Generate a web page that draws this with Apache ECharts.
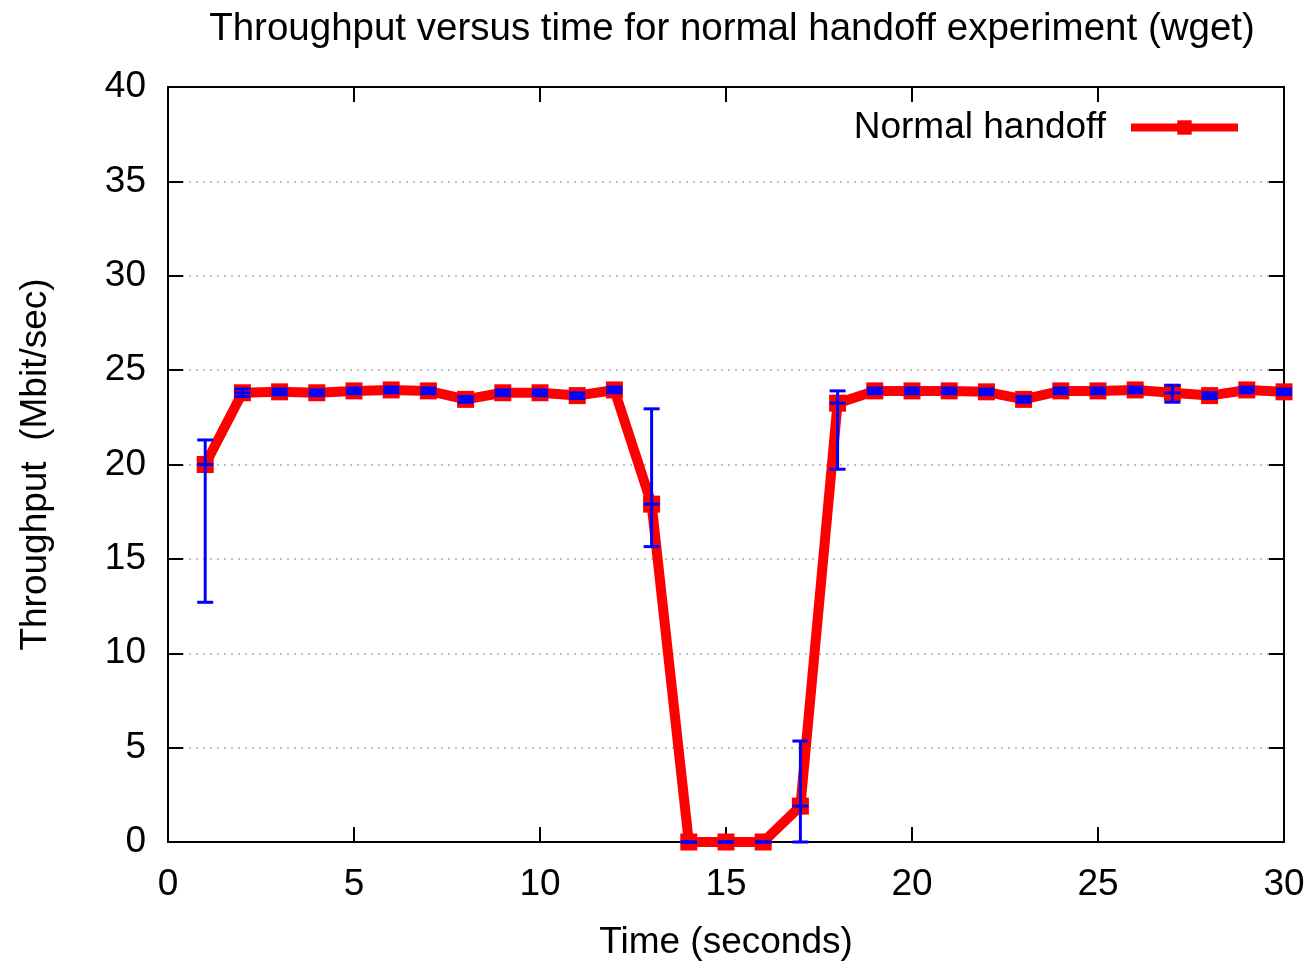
<!DOCTYPE html>
<html>
<head>
<meta charset="utf-8">
<script src="https://cdn.jsdelivr.net/npm/echarts@6/dist/echarts.min.js"></script>
<style>
  html, body { margin: 0; padding: 0; background: #fff; }
  #chart { width: 1315px; height: 963px; }
</style>
</head>
<body>
<div id="chart"></div>
<script>
// time (seconds)
const times = [1, 2, 3, 4, 5, 6, 7, 8, 9, 10, 11, 12, 13, 14, 15, 16, 17, 18, 19, 20, 21, 22, 23, 24, 25, 26, 27, 28, 29, 30];
// mean throughput (Mbit/sec)
const throughput = [20.0, 23.8, 23.85, 23.8, 23.9, 23.95, 23.9, 23.45, 23.8, 23.8, 23.65, 23.95, 17.9, 0, 0, 0, 1.9, 23.25, 23.9, 23.9, 23.9, 23.85, 23.45, 23.9, 23.9, 23.95, 23.8, 23.65, 23.95, 23.85];
// error bar bounds
const errLow = [12.7, 23.6, 23.7, 23.65, 23.75, 23.8, 23.75, 23.3, 23.65, 23.65, 23.5, 23.8, 15.65, 0, 0, 0, 0, 19.75, 23.75, 23.75, 23.75, 23.7, 23.3, 23.75, 23.75, 23.8, 23.3, 23.5, 23.8, 23.7];
const errHigh = [21.3, 24.0, 24.0, 23.95, 24.05, 24.1, 24.05, 23.6, 23.95, 23.95, 23.8, 24.1, 22.95, 0, 0, 0, 5.35, 23.9, 24.05, 24.05, 24.05, 24.0, 23.6, 24.05, 24.05, 24.1, 24.2, 23.8, 24.1, 24.0];

const font = "Liberation Sans, Arial, sans-serif";
const fontSize = 37;
const chart = echarts.init(document.getElementById("chart"));

const lineData = times.map((t, i) => [t, throughput[i]]);
const errData = times.map((t, i) => [t, errLow[i], errHigh[i], throughput[i]]);

const tickStyle = { show: true, inside: true, length: 15, lineStyle: { color: "#000", width: 2 } };
const axisLineStyle = { show: true, onZero: false, lineStyle: { color: "#000", width: 2 } };

const option = {
  backgroundColor: "#fff",
  animation: false,
  title: {
    text: "Throughput versus time for normal handoff experiment (wget)",
    left: 727,
    textAlign: "center",
    top: 5,
    textStyle: { fontFamily: font, fontSize: 38.5, fontWeight: "normal", color: "#000" },
  },
  legend: {
    right: 68,
    top: 104,
    align: "right",
    itemWidth: 107,
    itemHeight: 18,
    itemGap: 0,
    data: [{ name: "Normal handoff" }],
    lineStyle: { width: 8 },
    textStyle: { fontFamily: font, fontSize, color: "#000", padding: [0, 20, 0, 0] },
  },
  grid: { left: 168, right: 31, top: 87, bottom: 121, containLabel: false, outerBoundsMode: "none" },
  xAxis: [
    {
      type: "value",
      position: "bottom",
      min: 0,
      max: 30,
      interval: 5,
      name: "Time (seconds)",
      nameLocation: "middle",
      nameGap: 82,
      nameTextStyle: { fontFamily: font, fontSize, color: "#000" },
      axisLine: axisLineStyle,
      axisTick: tickStyle,
      axisLabel: { margin: 24, fontFamily: font, fontSize, color: "#000" },
      splitLine: { show: false },
    },
    {
      type: "value",
      position: "top",
      min: 0,
      max: 30,
      interval: 5,
      axisLine: axisLineStyle,
      axisTick: tickStyle,
      axisLabel: { show: false },
      splitLine: { show: false },
    },
  ],
  yAxis: [
    {
      type: "value",
      position: "left",
      min: 0,
      max: 40,
      interval: 5,
      name: "Throughput  (Mbit/sec)",
      nameLocation: "middle",
      nameGap: 114,
      nameRotate: 90,
      nameTextStyle: { fontFamily: font, fontSize, color: "#000" },
      axisLine: axisLineStyle,
      axisTick: tickStyle,
      axisLabel: { margin: 22, fontFamily: font, fontSize, color: "#000" },
      splitLine: { show: true, lineStyle: { color: "#aaa", width: 1.5, type: [2, 5] } },
    },
    {
      type: "value",
      position: "right",
      min: 0,
      max: 40,
      interval: 5,
      axisLine: axisLineStyle,
      axisTick: tickStyle,
      axisLabel: { show: false },
      splitLine: { show: false },
    },
  ],
  series: [
    {
      name: "Normal handoff",
      type: "line",
      data: lineData,
      symbol: "rect",
      symbolSize: 17,
      showAllSymbol: true,
      clip: false,
      lineStyle: { color: "#ff0000", width: 10 },
      itemStyle: { color: "#ff0000" },
      z: 3,
    },
    {
      name: "errors",
      type: "custom",
      data: errData,
      clip: false,
      z: 5,
      encode: { x: 0, y: [1, 2] },
      renderItem: function (params, api) {
        const x = api.value(0);
        const lo = api.coord([x, api.value(1)]);
        const hi = api.coord([x, api.value(2)]);
        const mid = api.coord([x, api.value(3)]);
        const half = 8;
        const style = { stroke: "#0000ff", lineWidth: 3 };
        return {
          type: "group",
          children: [
            { type: "line", shape: { x1: lo[0], y1: lo[1], x2: hi[0], y2: hi[1] }, style },
            { type: "line", shape: { x1: lo[0] - half, y1: lo[1], x2: lo[0] + half, y2: lo[1] }, style },
            { type: "line", shape: { x1: hi[0] - half, y1: hi[1], x2: hi[0] + half, y2: hi[1] }, style },
            { type: "line", shape: { x1: mid[0] - half, y1: mid[1], x2: mid[0] + half, y2: mid[1] }, style },
          ],
        };
      },
    },
  ],
};

chart.setOption(option);
</script>
</body>
</html>
